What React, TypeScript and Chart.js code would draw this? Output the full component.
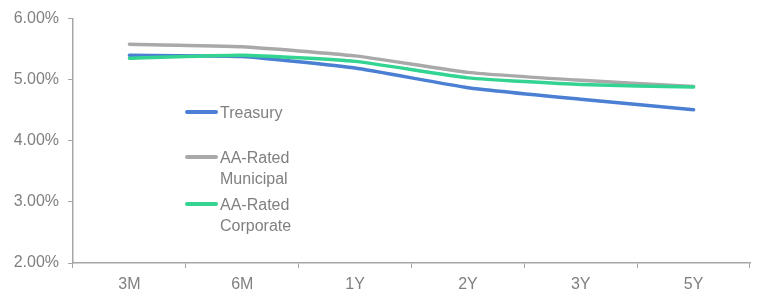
import React, { useEffect, useRef } from "react";
import { Chart, registerables } from "chart.js";

Chart.register(...registerables);

const categories = ["3M", "6M", "1Y", "2Y", "3Y", "5Y"];
const treasury = [5.40, 5.38, 5.19, 4.87, 4.68, 4.51];
const municipal = [5.58, 5.54, 5.39, 5.12, 4.99, 4.89];
const corporate = [5.35, 5.40, 5.30, 5.03, 4.92, 4.88];
const yTicks = [2, 3, 4, 5, 6];

const seriesNames = ["Treasury", "AA-Rated Municipal", "AA-Rated Corporate"];
const colors = ["#4a7fd3", "#a9a9a9", "#33d492"];

const FONT = "'Liberation Sans', Arial, sans-serif";
const TEXT = "#808080";

export default function App() {
  const ref = useRef<HTMLCanvasElement | null>(null);

  useEffect(() => {
    if (!ref.current) return;
    const chart = new Chart(ref.current, {
      type: "line",
      data: {
        labels: categories,
        datasets: [
          { label: seriesNames[0], data: treasury, borderColor: colors[0], backgroundColor: colors[0], order: 3 },
          { label: seriesNames[1], data: municipal, borderColor: colors[1], backgroundColor: colors[1], order: 2 },
          { label: seriesNames[2], data: corporate, borderColor: colors[2], backgroundColor: colors[2], order: 1 },
        ].map((d) => ({ ...d, borderWidth: 3.5, pointRadius: 0, tension: 0.15, fill: false, borderCapStyle: "round" as const })),
      },
      options: {
        responsive: false,
        animation: false,
        layout: { padding: { left: 0, right: 9, top: 15, bottom: 0 } },
        plugins: { legend: { display: false }, tooltip: { enabled: false } },
        scales: {
          x: {
            offset: true,
            grid: { display: true, drawOnChartArea: false, drawTicks: true, tickLength: 5, color: "#a6a6a6", offset: true },
            border: { display: true, color: "#a6a6a6", width: 1.5 },
            ticks: { color: TEXT, font: { family: FONT, size: 16 }, padding: 7, maxRotation: 0 },
            afterFit: (s: any) => { s.height = 32; },
          },
          y: {
            min: 2,
            max: 6,
            afterBuildTicks: (s: any) => { s.ticks = yTicks.map((v) => ({ value: v })); },
            grid: { display: true, drawOnChartArea: false, drawTicks: true, tickLength: 5, color: "#a6a6a6" },
            border: { display: true, color: "#a6a6a6", width: 1.5 },
            ticks: {
              color: TEXT,
              font: { family: FONT, size: 16 },
              padding: 9,
              callback: (v: any) => Number(v).toFixed(2) + "%",
            },
            afterFit: (s: any) => { s.width = 73; },
          },
        },
      },
    });
    return () => chart.destroy();
  }, []);

  const legendItems = [
    { lines: ["Treasury"], y: 112, color: colors[0] },
    { lines: ["AA-Rated", "Municipal"], y: 157, color: colors[1] },
    { lines: ["AA-Rated", "Corporate"], y: 204, color: colors[2] },
  ];

  return (
    <div style={{ position: "fixed", left: 0, top: 0, width: 759, height: 295, background: "#fff" }}>
      <canvas ref={ref} width={759} height={295} style={{ display: "block" }} />
      {legendItems.map((it, i) => (
        <div key={i} style={{ position: "absolute", left: 185, top: it.y - 10.5, fontFamily: FONT, fontSize: 16, color: TEXT, lineHeight: "21px" }}>
          <div style={{ position: "absolute", left: 0, top: 8.75, width: 33, height: 3.5, borderRadius: 2, background: it.color }} />
          <div style={{ marginLeft: 35, whiteSpace: "nowrap" }}>
            {it.lines.map((l, j) => (
              <div key={j}>{l}</div>
            ))}
          </div>
        </div>
      ))}
    </div>
  );
}
